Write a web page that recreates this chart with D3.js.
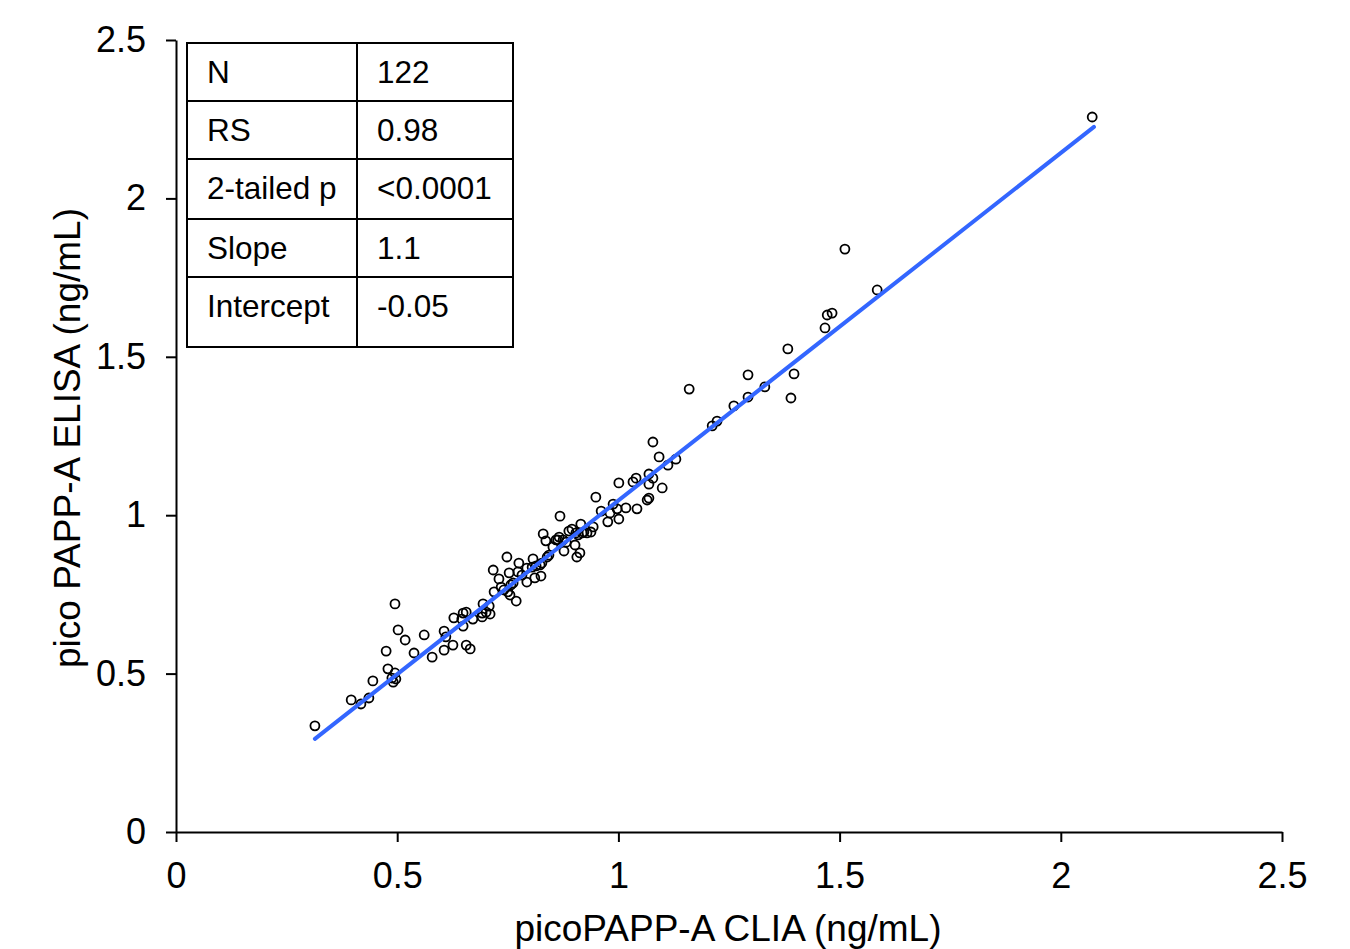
<!DOCTYPE html>
<html><head><meta charset="utf-8">
<script src="https://cdn.jsdelivr.net/npm/d3@7"></script>
<style>body{margin:0;background:#fff}svg{display:block}text{font-family:"Liberation Sans",Arial,sans-serif;fill:#000}</style>
</head><body>
<script>
const xVals = [0.314,0.396,0.418,0.436,0.445,0.475,0.479,0.488,0.495,0.497,0.491,0.495,0.502,0.518,0.538,0.561,0.579,0.606,0.610,0.606,
0.626,0.628,0.649,0.656,0.646,0.649,0.656,0.665,0.671,0.694,0.692,0.692,0.701,0.710,0.708,0.717,0.719,0.730,0.735,0.741,
0.748,0.753,0.750,0.755,0.757,0.762,0.769,0.775,0.773,0.782,0.793,0.807,0.805,0.814,0.823,0.827,0.811,0.825,0.839,0.843,
0.830,0.836,0.852,0.859,0.866,0.875,0.882,0.868,0.877,0.888,0.895,0.904,0.909,0.902,0.906,0.913,0.915,0.929,0.938,0.943,
0.949,0.961,0.976,0.981,0.988,0.997,1.001,1.001,1.017,1.033,1.040,1.042,1.065,1.069,1.069,1.069,1.078,1.078,1.099,1.092,
1.112,1.130,1.160,1.212,1.223,1.261,1.293,1.293,1.331,1.383,1.397,1.390,1.467,1.472,1.483,1.585,1.512,2.071,0.918,0.922,
0.793,0.863];
const yVals = [0.335,0.417,0.404,0.423,0.477,0.571,0.515,0.486,0.502,0.483,0.473,0.720,0.638,0.606,0.565,0.622,0.552,0.634,0.616,0.574,
0.590,0.676,0.691,0.694,0.672,0.650,0.590,0.578,0.672,0.720,0.691,0.679,0.694,0.688,0.713,0.827,0.758,0.799,0.773,0.764,
0.868,0.818,0.758,0.748,0.780,0.786,0.729,0.849,0.821,0.811,0.789,0.862,0.836,0.840,0.843,0.849,0.802,0.808,0.868,0.874,
0.941,0.919,0.900,0.922,0.931,0.922,0.915,0.997,0.887,0.950,0.956,0.944,0.938,0.906,0.868,0.881,0.972,0.944,0.947,0.963,
1.057,1.013,0.979,1.007,1.035,1.020,0.988,1.102,1.023,1.105,1.117,1.020,1.048,1.054,1.130,1.098,1.117,1.231,1.086,1.184,
1.158,1.177,1.398,1.282,1.297,1.345,1.443,1.373,1.405,1.525,1.446,1.370,1.591,1.632,1.638,1.711,1.840,2.257,0.944,0.947,
0.833,0.922];
const fitSlope = 1.097, fitIntercept = -0.0505;
const fitRange = [0.314, 2.075];
const xTicks = [0, 0.5, 1, 1.5, 2, 2.5];
const yTicks = [0, 0.5, 1, 1.5, 2, 2.5];
const xTitle = "picoPAPP-A CLIA (ng/mL)";
const yTitle = "pico PAPP-A ELISA (ng/mL)";
const tableLabels = ["N","RS","2-tailed p","Slope","Intercept"];
const tableValues = ["122","0.98","<0.0001","1.1","-0.05"];

const W = 1350, H = 949;
const svg = d3.select("body").append("svg").attr("width", W).attr("height", H);
const x = d3.scaleLinear().domain([0, 2.5]).range([176, 1282]);
const y = d3.scaleLinear().domain([0, 2.5]).range([832, 40]);
const fmt = d => d === 0 ? "0" : String(d);

const xAxis = svg.append("g").attr("transform", "translate(0,832)")
  .call(d3.axisBottom(x).tickValues(xTicks).tickFormat(fmt).tickSize(10).tickSizeOuter(0).tickPadding(20));
const yAxis = svg.append("g").attr("transform", "translate(176,0)")
  .call(d3.axisLeft(y).tickValues(yTicks).tickFormat(fmt).tickSize(10).tickSizeOuter(0).tickPadding(20));
[xAxis, yAxis].forEach(g => {
  g.selectAll("path,line").attr("stroke", "#000").attr("stroke-width", 2);
  g.selectAll("text").attr("font-size", 36).attr("font-family", "Liberation Sans, Arial, sans-serif").attr("fill", "#000");
});
xAxis.selectAll("text").attr("dy", "0.71em");

svg.append("text").attr("x", 728).attr("y", 941).attr("text-anchor", "middle").attr("font-size", 37).text(xTitle);
svg.append("text").attr("transform", "translate(80,438) rotate(-90)").attr("text-anchor", "middle").attr("font-size", 37).text(yTitle);

const pts = xVals.map((v, i) => [v, yVals[i]]);
svg.append("g").selectAll("circle").data(pts).join("circle")
  .attr("cx", d => x(d[0])).attr("cy", d => y(d[1])).attr("r", 4.5)
  .attr("fill", "none").attr("stroke", "#000").attr("stroke-width", 1.8);

svg.append("line")
  .attr("x1", x(fitRange[0])).attr("y1", y(fitSlope * fitRange[0] + fitIntercept))
  .attr("x2", x(fitRange[1])).attr("y2", y(fitSlope * fitRange[1] + fitIntercept))
  .attr("stroke", "#3366ff").attr("stroke-width", 4).attr("stroke-linecap", "round");

// stats table
const tx0 = 187, tx1 = 357, tx2 = 513;
const rowEdges = [43, 101, 159, 219, 277, 347];
const tbl = svg.append("g");
tbl.append("rect").attr("x", tx0).attr("y", rowEdges[0]).attr("width", tx2 - tx0).attr("height", rowEdges[5] - rowEdges[0])
  .attr("fill", "#fff").attr("stroke", "#000").attr("stroke-width", 2);
tbl.append("line").attr("x1", tx1).attr("x2", tx1).attr("y1", rowEdges[0]).attr("y2", rowEdges[5]).attr("stroke", "#000").attr("stroke-width", 2);
rowEdges.slice(1, 5).forEach(r => tbl.append("line").attr("x1", tx0).attr("x2", tx2).attr("y1", r).attr("y2", r).attr("stroke", "#000").attr("stroke-width", 2));
tableLabels.forEach((t, i) => {
  const cy = rowEdges[i] + 29;
  tbl.append("text").attr("x", tx0 + 20).attr("y", cy).attr("dy", "0.36em").attr("font-size", 31.5).text(t);
  tbl.append("text").attr("x", tx1 + 20).attr("y", cy).attr("dy", "0.36em").attr("font-size", 31.5).text(tableValues[i]);
});
</script>
</body></html>
